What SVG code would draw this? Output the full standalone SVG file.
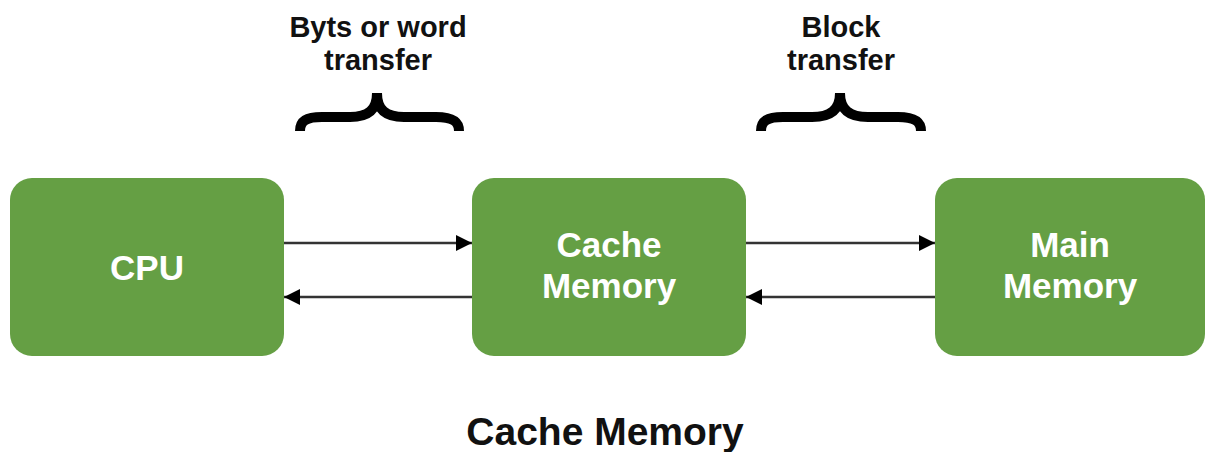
<svg xmlns="http://www.w3.org/2000/svg" width="1206" height="452" viewBox="0 0 1206 452">
<style>
.box{fill:#659F44;}
.nt{font-family:"Liberation Sans",Arial,sans-serif;font-weight:bold;font-size:35px;fill:#ffffff;text-anchor:middle;}
.lt{font-family:"Liberation Sans",Arial,sans-serif;font-weight:bold;font-size:29px;fill:#111111;text-anchor:middle;}
.tt{font-family:"Liberation Sans",Arial,sans-serif;font-weight:bold;font-size:39px;fill:#111111;text-anchor:middle;}
.ln{stroke:#333333;stroke-width:2.5;fill:none;}
.br{stroke:#000000;stroke-width:10;fill:none;stroke-linejoin:miter;stroke-linecap:butt;}
</style>
<defs>
<marker id="ah" viewBox="0 0 16 16" refX="16" refY="8" markerWidth="16" markerHeight="16" markerUnits="userSpaceOnUse" orient="auto">
<path d="M0,0 L16,8 L0,16 Z" fill="#000000"/>
</marker>
</defs>
<rect width="1206" height="452" fill="#ffffff"/>
<g id="label-bytes">
<text class="lt" x="378" y="37">Byts or word</text>
<text class="lt" x="378" y="70">transfer</text>
<path class="br" d="M300,131 C300,121 306,117 322,117 L350,117 C368,117 377,110 377,93 C377,110 386,117 404,117 L436,117 C452,117 459,121 459,131"/>
</g>
<g id="label-block">
<text class="lt" x="841" y="37">Block</text>
<text class="lt" x="841" y="70">transfer</text>
<path class="br" d="M761,131 C761,121 767,117 783,117 L812,117 C830,117 840,110 840,93 C840,110 850,117 868,117 L898,117 C914,117 921,121 921,131"/>
</g>
<g id="cpu">
<rect class="box" x="10" y="178" width="274" height="178" rx="22" ry="22"/>
<text class="nt" x="147" y="280">CPU</text>
</g>
<g id="cache">
<rect class="box" x="472" y="178" width="274" height="178" rx="22" ry="22"/>
<text class="nt" x="609" y="257">Cache</text>
<text class="nt" x="609" y="298">Memory</text>
</g>
<g id="main">
<rect class="box" x="935" y="178" width="270" height="178" rx="22" ry="22"/>
<text class="nt" x="1070" y="257">Main</text>
<text class="nt" x="1070" y="298">Memory</text>
</g>
<g id="connectors">
<line class="ln" x1="284" y1="243" x2="472" y2="243" marker-end="url(#ah)"/>
<line class="ln" x1="472" y1="297" x2="284" y2="297" marker-end="url(#ah)"/>
<line class="ln" x1="746" y1="243" x2="935" y2="243" marker-end="url(#ah)"/>
<line class="ln" x1="935" y1="297" x2="746" y2="297" marker-end="url(#ah)"/>
</g>
<g id="title">
<text class="tt" x="605" y="445">Cache Memory</text>
</g>
</svg>
